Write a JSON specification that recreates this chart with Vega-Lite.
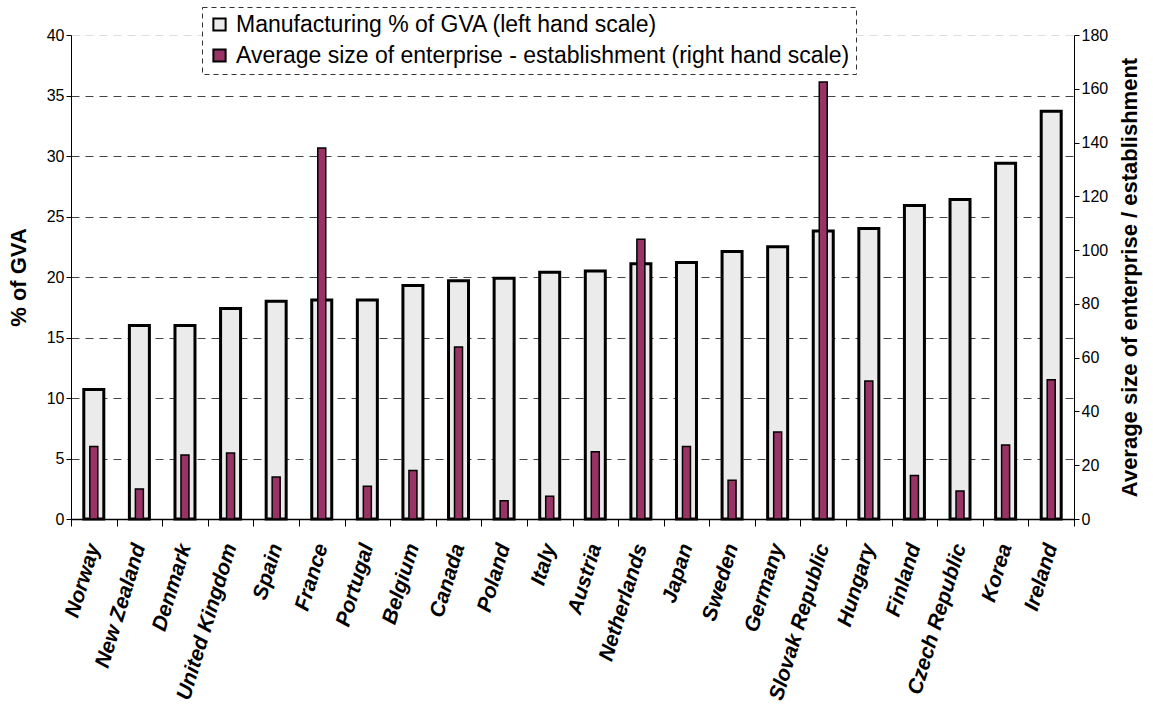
{
  "$schema": "https://vega.github.io/schema/vega-lite/v6.json",
  "width": 1003,
  "height": 484,
  "autosize": {"type": "none"},
  "padding": {"left": 71, "top": 35, "right": 79, "bottom": 196},
  "background": "white",
  "config": {
    "view": {"stroke": null},
    "font": "Liberation Sans",
    "axis": {"labelFont": "Liberation Sans", "titleFont": "Liberation Sans", "labelColor": "black", "titleColor": "black", "domainColor": "black", "tickColor": "black"},
    "legend": {"strokeDash": [5, 4]}
  },
  "data": {"values": [
    {"country": "Norway", "gva": 10.7, "size": 27},
    {"country": "New Zealand", "gva": 16.0, "size": 11.2},
    {"country": "Denmark", "gva": 16.0, "size": 23.8},
    {"country": "United Kingdom", "gva": 17.4, "size": 24.5},
    {"country": "Spain", "gva": 18.0, "size": 15.6},
    {"country": "France", "gva": 18.1, "size": 138},
    {"country": "Portugal", "gva": 18.1, "size": 12.2},
    {"country": "Belgium", "gva": 19.3, "size": 18},
    {"country": "Canada", "gva": 19.7, "size": 64},
    {"country": "Poland", "gva": 19.9, "size": 6.8},
    {"country": "Italy", "gva": 20.4, "size": 8.5},
    {"country": "Austria", "gva": 20.5, "size": 25},
    {"country": "Netherlands", "gva": 21.1, "size": 104},
    {"country": "Japan", "gva": 21.2, "size": 27},
    {"country": "Sweden", "gva": 22.1, "size": 14.4},
    {"country": "Germany", "gva": 22.5, "size": 32.4},
    {"country": "Slovak Republic", "gva": 23.8, "size": 162.5},
    {"country": "Hungary", "gva": 24.0, "size": 51.3},
    {"country": "Finland", "gva": 25.9, "size": 16.2},
    {"country": "Czech Republic", "gva": 26.4, "size": 10.4},
    {"country": "Korea", "gva": 29.4, "size": 27.5},
    {"country": "Ireland", "gva": 33.7, "size": 51.8}
  ]},
  "encoding": {
    "x": {
      "field": "country", "type": "nominal", "sort": null,
      "scale": {"paddingInner": 0, "paddingOuter": 0},
      "axis": {
        "title": null, "labelAngle": -73, "labelFontSize": 21, "labelFontWeight": "bold", "labelFontStyle": "italic",
        "labelAlign": "right", "labelBaseline": "middle", "labelPadding": 18,
        "tickBand": "extent", "tickSize": 7, "domainWidth": 1.5, "labelOverlap": false, "labelLimit": 0
      }
    }
  },
  "layer": [
    {
      "mark": {"type": "bar", "width": 20, "stroke": "black", "strokeWidth": 3},
      "encoding": {
        "y": {
          "field": "gva", "type": "quantitative",
          "scale": {"domain": [0, 40]},
          "axis": {
            "title": "% of GVA", "titleFontSize": 22, "titleFontWeight": "bold", "titlePadding": 16,
            "values": [0, 5, 10, 15, 20, 25, 30, 35, 40], "labelFontSize": 16, "tickSize": 5,
            "grid": true, "gridDash": [8, 6], "gridWidth": 1,
            "gridColor": {"condition": {"test": "datum.value == 40 || datum.value == 0", "value": "#dddddd"}, "value": "#444444"}
          }
        },
        "color": {
          "datum": "Manufacturing % of GVA (left hand scale)",
          "scale": {
            "domain": ["Manufacturing % of GVA (left hand scale)", "Average size of enterprise - establishment (right hand scale)"],
            "range": ["#ebebeb", "#993366"]
          },
          "legend": {
            "title": null, "orient": "none", "legendX": 131, "legendY": -28,
            "labelFontSize": 23, "labelFont": "Liberation Sans", "labelColor": "black", "labelLimit": 0,
            "symbolType": "square", "symbolSize": 150, "symbolStrokeColor": "black", "symbolStrokeWidth": 2,
            "rowPadding": 7, "padding": 6, "labelOffset": 5,
            "strokeColor": "#333333", "fillColor": "white"
          }
        }
      }
    },
    {
      "mark": {"type": "bar", "width": 8, "stroke": "black", "strokeWidth": 1.5},
      "encoding": {
        "y": {
          "field": "size", "type": "quantitative",
          "scale": {"domain": [0, 180]},
          "axis": {
            "orient": "right", "title": "Average size of enterprise / establishment", "titleFontSize": 22, "titleFontWeight": "bold",
            "titleAngle": -90, "titlePadding": 34,
            "values": [0, 20, 40, 60, 80, 100, 120, 140, 160, 180], "labelFontSize": 16, "tickSize": 5, "grid": false
          }
        },
        "color": {"datum": "Average size of enterprise - establishment (right hand scale)"}
      }
    }
  ],
  "resolve": {"scale": {"y": "independent"}}
}
